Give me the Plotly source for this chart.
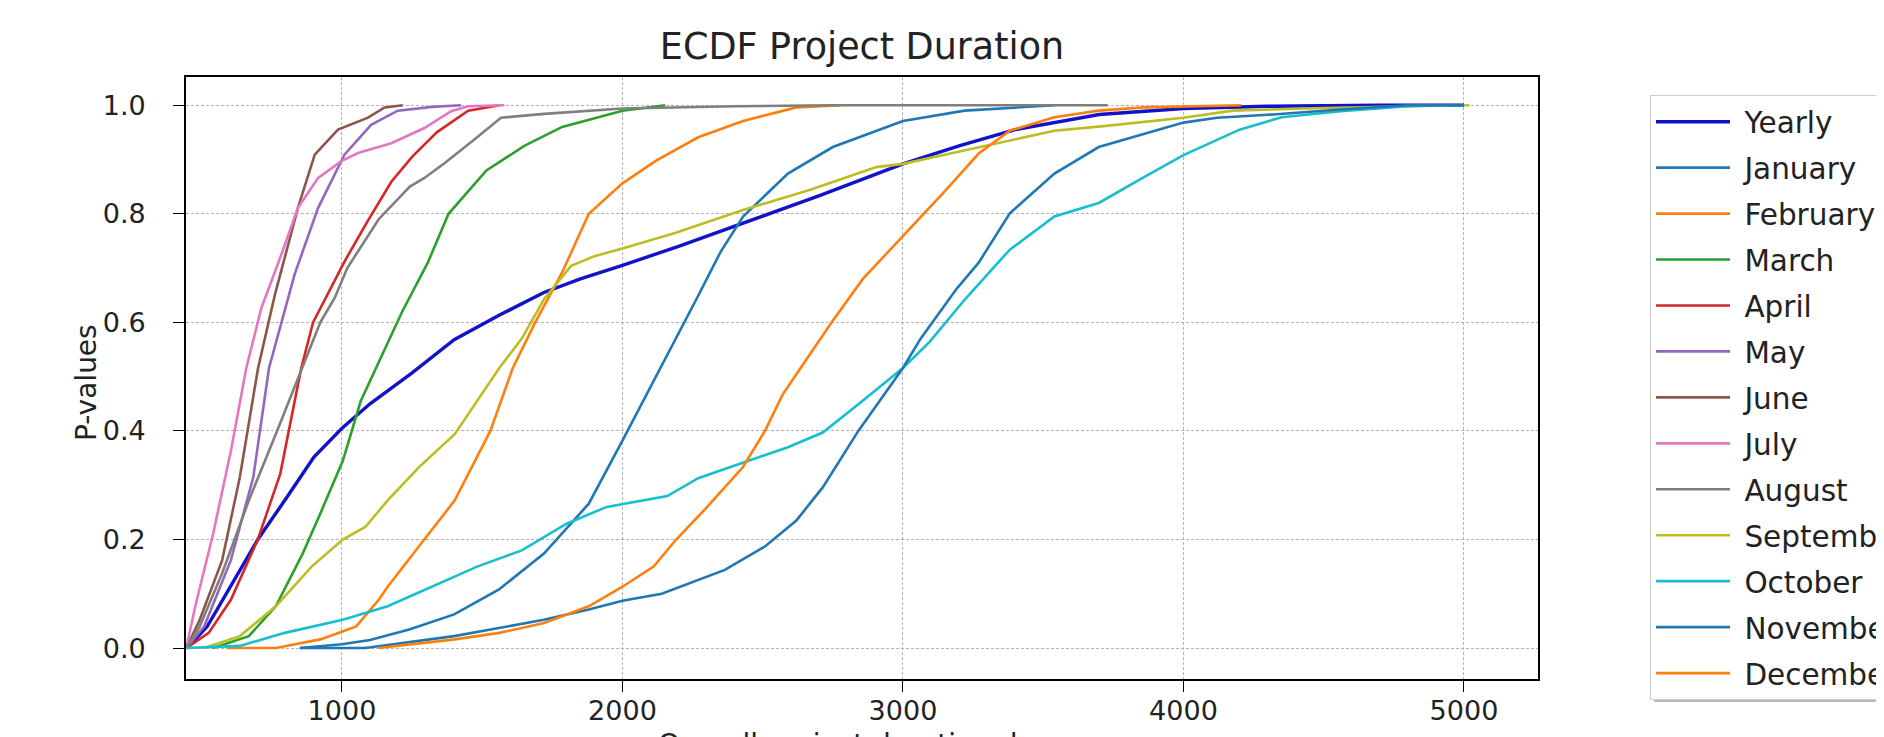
import plotly.graph_objects as go

# ---------------- data ----------------
yearly_x = [445, 470, 520, 600, 700, 800, 900, 1000, 1100, 1250, 1400, 1560, 1720, 1850, 2000, 2200, 2430, 2700, 3000, 3200, 3400, 3700, 4000, 4300, 4700, 5000]
yearly_y = [0, 0.012, 0.04, 0.11, 0.2, 0.275, 0.352, 0.405, 0.45, 0.507, 0.568, 0.613, 0.655, 0.68, 0.705, 0.74, 0.783, 0.833, 0.892, 0.925, 0.955, 0.983, 0.994, 0.998, 1.0, 1.0]

jan_x = [850, 1000, 1100, 1240, 1400, 1560, 1720, 1880, 2000, 2136, 2270, 2350, 2430, 2590, 2750, 3000, 3220, 3540]
jan_y = [0, 0.007, 0.015, 0.034, 0.062, 0.108, 0.174, 0.266, 0.382, 0.516, 0.649, 0.73, 0.795, 0.874, 0.923, 0.971, 0.99, 1.0]

feb_x = [589, 764, 923, 1051, 1131, 1163, 1274, 1402, 1529, 1609, 1689, 1785, 1880, 2000, 2120, 2270, 2430, 2620, 2780]
feb_y = [0, 0.0, 0.016, 0.04, 0.089, 0.113, 0.187, 0.272, 0.4, 0.516, 0.6, 0.692, 0.8, 0.856, 0.898, 0.941, 0.971, 0.996, 1.0]

mar_x = [541, 668, 764, 860, 923, 1003, 1067, 1120, 1215, 1306, 1380, 1515, 1650, 1785, 2000, 2152]
mar_y = [0, 0.022, 0.077, 0.174, 0.248, 0.345, 0.455, 0.513, 0.62, 0.71, 0.8, 0.88, 0.925, 0.96, 0.99, 1.0]

apr_x = [445, 525, 604, 700, 780, 855, 897, 1009, 1090, 1176, 1250, 1338, 1450, 1561]
apr_y = [0, 0.028, 0.089, 0.2, 0.321, 0.516, 0.6, 0.712, 0.785, 0.859, 0.905, 0.95, 0.99, 1.0]

may_x = [445, 509, 604, 684, 740, 831, 915, 1009, 1104, 1199, 1322, 1424]
may_y = [0, 0.04, 0.162, 0.315, 0.516, 0.688, 0.811, 0.909, 0.964, 0.99, 0.997, 1.0]

jun_x = [445, 493, 573, 636, 701, 761, 843, 903, 986, 1093, 1152, 1217]
jun_y = [0, 0.052, 0.162, 0.315, 0.516, 0.651, 0.811, 0.909, 0.955, 0.977, 0.996, 1.0]

jul_x = [445, 477, 541, 604, 659, 713, 784, 843, 915, 998, 1057, 1176, 1294, 1389, 1450, 1579]
jul_y = [0, 0.077, 0.211, 0.363, 0.516, 0.627, 0.725, 0.811, 0.866, 0.897, 0.912, 0.93, 0.958, 0.989, 0.998, 1.0]

aug_x = [445, 493, 573, 668, 764, 844, 923, 974, 1019, 1131, 1176, 1242, 1294, 1370, 1472, 1567, 1721, 2000, 2400, 2746, 3730]
aug_y = [0, 0.04, 0.138, 0.272, 0.394, 0.498, 0.6, 0.645, 0.70, 0.79, 0.815, 0.85, 0.866, 0.895, 0.937, 0.977, 0.984, 0.994, 0.998, 1.0, 1.0]

sep_x = [509, 636, 764, 892, 1003, 1083, 1163, 1274, 1402, 1482, 1561, 1641, 1721, 1817, 1900, 2000, 2190, 2430, 2667, 2905, 3000, 3222, 3540, 3725, 4000, 4175, 4500, 4800, 5020]
sep_y = [0, 0.022, 0.077, 0.15, 0.2, 0.223, 0.272, 0.333, 0.394, 0.455, 0.516, 0.57, 0.643, 0.704, 0.722, 0.736, 0.765, 0.807, 0.844, 0.886, 0.892, 0.917, 0.953, 0.962, 0.977, 0.99, 0.995, 0.998, 1.0]

oct_x = [445, 636, 796, 1003, 1163, 1322, 1482, 1641, 1801, 1944, 2040, 2160, 2270, 2430, 2590, 2714, 2841, 3000, 3095, 3222, 3381, 3540, 3698, 3850, 4000, 4200, 4350, 4560, 4800, 4920, 5000]
oct_y = [0, 0.004, 0.028, 0.052, 0.077, 0.113, 0.15, 0.18, 0.229, 0.26, 0.269, 0.28, 0.313, 0.342, 0.37, 0.397, 0.449, 0.516, 0.564, 0.643, 0.734, 0.795, 0.82, 0.865, 0.908, 0.955, 0.978, 0.989, 0.998, 1.0, 1.0]

nov_x = [850, 1083, 1400, 1720, 1880, 2000, 2140, 2365, 2508, 2620, 2714, 2841, 3000, 3063, 3190, 3270, 3381, 3540, 3698, 3857, 4000, 4120, 4320, 4560, 4800, 5000]
nov_y = [0, 0.0, 0.022, 0.052, 0.071, 0.087, 0.10, 0.144, 0.187, 0.235, 0.296, 0.40, 0.516, 0.570, 0.661, 0.710, 0.801, 0.874, 0.923, 0.947, 0.968, 0.977, 0.983, 0.992, 1.0, 1.0]

dec_x = [1131, 1402, 1561, 1721, 1880, 2000, 2111, 2190, 2302, 2429, 2508, 2571, 2635, 2746, 2857, 3000, 3143, 3270, 3381, 3540, 3698, 3857, 4206]
dec_y = [0, 0.016, 0.028, 0.046, 0.077, 0.113, 0.15, 0.199, 0.26, 0.333, 0.40, 0.467, 0.516, 0.60, 0.68, 0.759, 0.838, 0.911, 0.953, 0.978, 0.99, 0.996, 1.0]

series_names = ["Yearly", "January", "February", "March", "April", "May", "June",
                "July", "August", "September", "October", "November", "December"]
series_x = [yearly_x, jan_x, feb_x, mar_x, apr_x, may_x, jun_x, jul_x, aug_x, sep_x, oct_x, nov_x, dec_x]
series_y = [yearly_y, jan_y, feb_y, mar_y, apr_y, may_y, jun_y, jul_y, aug_y, sep_y, oct_y, nov_y, dec_y]
series_colors = ["#1212c8", "#1f77b4", "#ff7f0e", "#2ca02c", "#d62728", "#9467bd", "#8c564b",
                 "#e377c2", "#7f7f7f", "#bcbd22", "#17becf", "#1f77b4", "#ff7f0e"]

x_ticks = [1000, 2000, 3000, 4000, 5000]
y_ticks = [0.0, 0.2, 0.4, 0.6, 0.8, 1.0]
y_tick_text = ["0.0", "0.2", "0.4", "0.6", "0.8", "1.0"]

FONT = "DejaVu Sans"
TXT = "#222222"
NB = "\u00a0"  # small gap between legend line sample and its label

fig = go.Figure()
for i, (name, xs, ys, col) in enumerate(zip(series_names, series_x, series_y, series_colors)):
    fig.add_trace(go.Scatter(
        x=xs, y=ys, mode="lines", name=NB + name,
        line=dict(color=col, width=3.4 if i == 0 else 2.6),
        legendgroup=name,
    ))

# legend shadow (matplotlib-style), sits just under the legend box
fig.add_shape(type="rect", xref="paper", yref="paper",
              x0=(1646 - 178) / 1352, x1=1.6,
              y0=(671 - 694) / 602, y1=(671 - 92) / 602,
              fillcolor="rgba(0,0,0,0.28)", line=dict(width=0), layer="above")

fig.update_layout(
    width=1884, height=737,
    margin=dict(l=178, r=354, t=69, b=66, autoexpand=False),
    paper_bgcolor="white", plot_bgcolor="white",
    font=dict(family=FONT, size=28, color=TXT),
    title=dict(text="ECDF Project Duration", x=0.5, xref="paper", xanchor="center",
               y=1, yref="paper", yanchor="bottom", pad=dict(b=18),
               font=dict(family=FONT, size=36.5, color=TXT)),
    showlegend=True,
    legend=dict(
        xref="container", yref="container",
        x=1642 / 1884, y=1 - 87 / 737, xanchor="left", yanchor="top",
        bgcolor="white", bordercolor="#cfcfcf", borderwidth=1,
        font=dict(family=FONT, size=29.5, color=TXT),
        tracegroupgap=4.6, itemwidth=74, maxheight=720,
    ),
    xaxis=dict(
        range=[444, 5264], tickvals=x_ticks, ticks="outside", ticklen=11, tickwidth=1.3,
        tickcolor="black", showline=True, mirror=True, linecolor="black", linewidth=1.6,
        showgrid=True, gridcolor="#b4b4b4", gridwidth=1, griddash="3px,2px", zeroline=False,
        ticklabelstandoff=-4,
        tickfont=dict(family=FONT, size=27, color=TXT),
    ),
    yaxis=dict(
        range=[-0.057, 1.052], tickvals=y_ticks, ticktext=y_tick_text, ticks="outside",
        ticklen=11, tickwidth=1.3, tickcolor="black", showline=True, mirror=True,
        linecolor="black", linewidth=1.6, showgrid=True, gridcolor="#b4b4b4", gridwidth=1,
        griddash="3px,2px", zeroline=False, ticklabelstandoff=22,
        tickfont=dict(family=FONT, size=27, color=TXT),
    ),
    annotations=[
        dict(text="Overall project duration days", xref="paper", yref="paper",
             x=0.5, y=-0.078, xanchor="center", yanchor="top", showarrow=False,
             font=dict(family=FONT, size=28, color=TXT)),
        dict(text="P-values", xref="paper", yref="paper", textangle=-90,
             x=(78 - 178) / 1352, y=(671 - 375) / 602, xanchor="center", yanchor="middle",
             showarrow=False, font=dict(family=FONT, size=28, color=TXT)),
    ],
)

fig.write_html("out.html")
